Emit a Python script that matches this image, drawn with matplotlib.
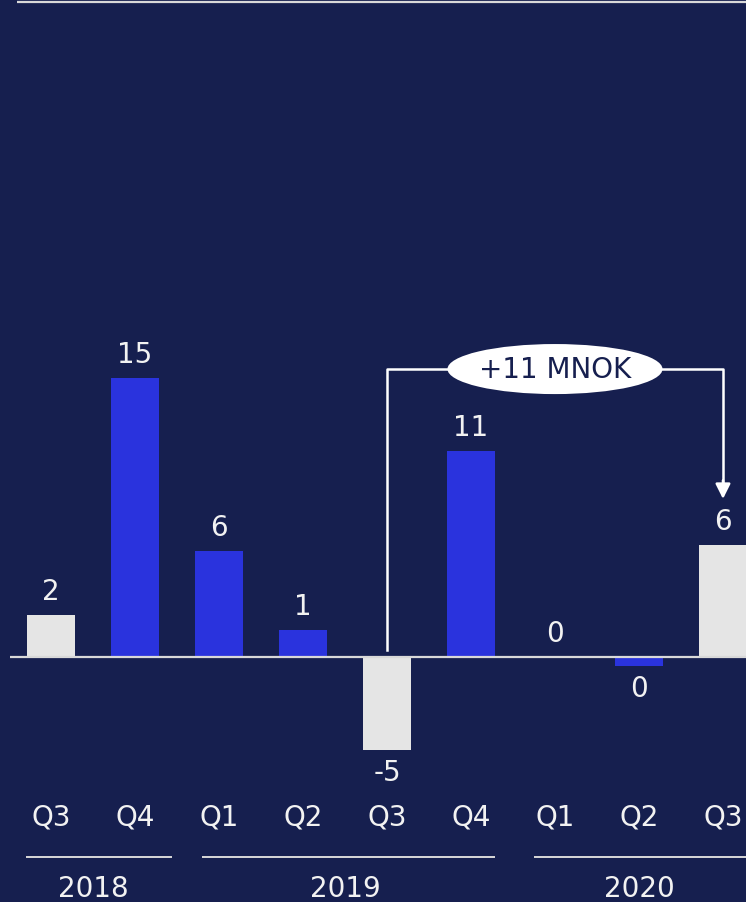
import matplotlib
matplotlib.use("Agg")
import matplotlib.pyplot as plt
from matplotlib.patches import Ellipse

plt.rcParams["font.family"] = ["DejaVu Sans"]

# Quarterly result, MNOK
quarters = ["Q3", "Q4", "Q1", "Q2", "Q3", "Q4", "Q1", "Q2", "Q3"]
years = ["2018", "2019", "2020"]
year_index = [0, 0, 1, 1, 1, 1, 2, 2, 2]
values = [2.26, 15.0, 5.7, 1.43, -5.02, 11.1, 0.0, -0.47, 6.0]
highlight = [True, False, False, False, True, False, False, False, True]
change_label = "+11 MNOK"

BG = "#161F4F"
BLUE = "#2A33DD"
GREY = "#E5E5E5"
TEXT = "#F2F2F2"
LINE = "#D9D9D9"

# underline extents around each year's quarters (left pad, right pad)
year_pads = [(0.30, 0.44), (0.20, 0.29), (0.25, 0.40)]

fig = plt.figure(figsize=(7.46, 9.02), dpi=100, facecolor=BG)
ax = fig.add_axes([0, 0, 1, 1])
ax.set_facecolor(BG)
ax.set_xlim(-0.607, 8.274)
ax.set_ylim(-13.17, 35.32)
ax.axis("off")

x = list(range(len(values)))
colors = [GREY if h else BLUE for h in highlight]
ax.bar(x, values, width=0.56, color=colors, zorder=2)

# zero line and top rule
ax.plot([-0.49, 8.3], [0, 0], color=LINE, lw=1.6, zorder=3, solid_capstyle="butt")
ax.plot([-0.405, 8.3], [35.2, 35.2], color=LINE, lw=1.6, solid_capstyle="butt")

# value labels
for xi, v in zip(x, values):
    off = 16.5 if v >= 0 else -16.5
    ax.annotate(str(int(round(v))), (xi, v), xytext=(0, off),
                textcoords="offset points", ha="center", va="center",
                fontsize=20, color=TEXT)

# quarter labels
for xi, q in zip(x, quarters):
    ax.text(xi, -8.63, q, ha="center", va="center", fontsize=20, color=TEXT)

# year groups: underline + label
for yi, year in enumerate(years):
    members = [xi for xi, g in zip(x, year_index) if g == yi]
    lpad, rpad = year_pads[yi]
    start, end = members[0] - lpad, members[-1] + rpad
    ax.plot([start, min(end, 8.3)], [-10.75, -10.75], color=LINE, lw=1.4,
            solid_capstyle="butt")
    ax.text((members[0] + members[-1]) / 2, -12.45, year, ha="center",
            va="center", fontsize=20, color=TEXT)

# change bracket from Q3 2019 to Q3 2020
x0, x1 = 4, 8
y_top = 15.48
ax.plot([x0, x0, x1, x1], [0.38, y_top, y_top, 9.2], color="white", lw=1.8,
        zorder=4)
ax.annotate("", xy=(x1, 8.5), xytext=(x1, 9.5),
            arrowprops=dict(arrowstyle="-|>,head_length=0.9,head_width=0.45",
                            color="white", lw=1.8, shrinkA=0, shrinkB=0),
            zorder=4)
ax.add_patch(Ellipse((6.0, y_top), 2.56, 2.69, facecolor="white",
                     edgecolor="none", zorder=5))
ax.text(6.0, y_top - 0.05, change_label, ha="center", va="center", fontsize=20,
        color=BG, zorder=6)

fig.savefig("out.png", dpi=100, facecolor=BG)
